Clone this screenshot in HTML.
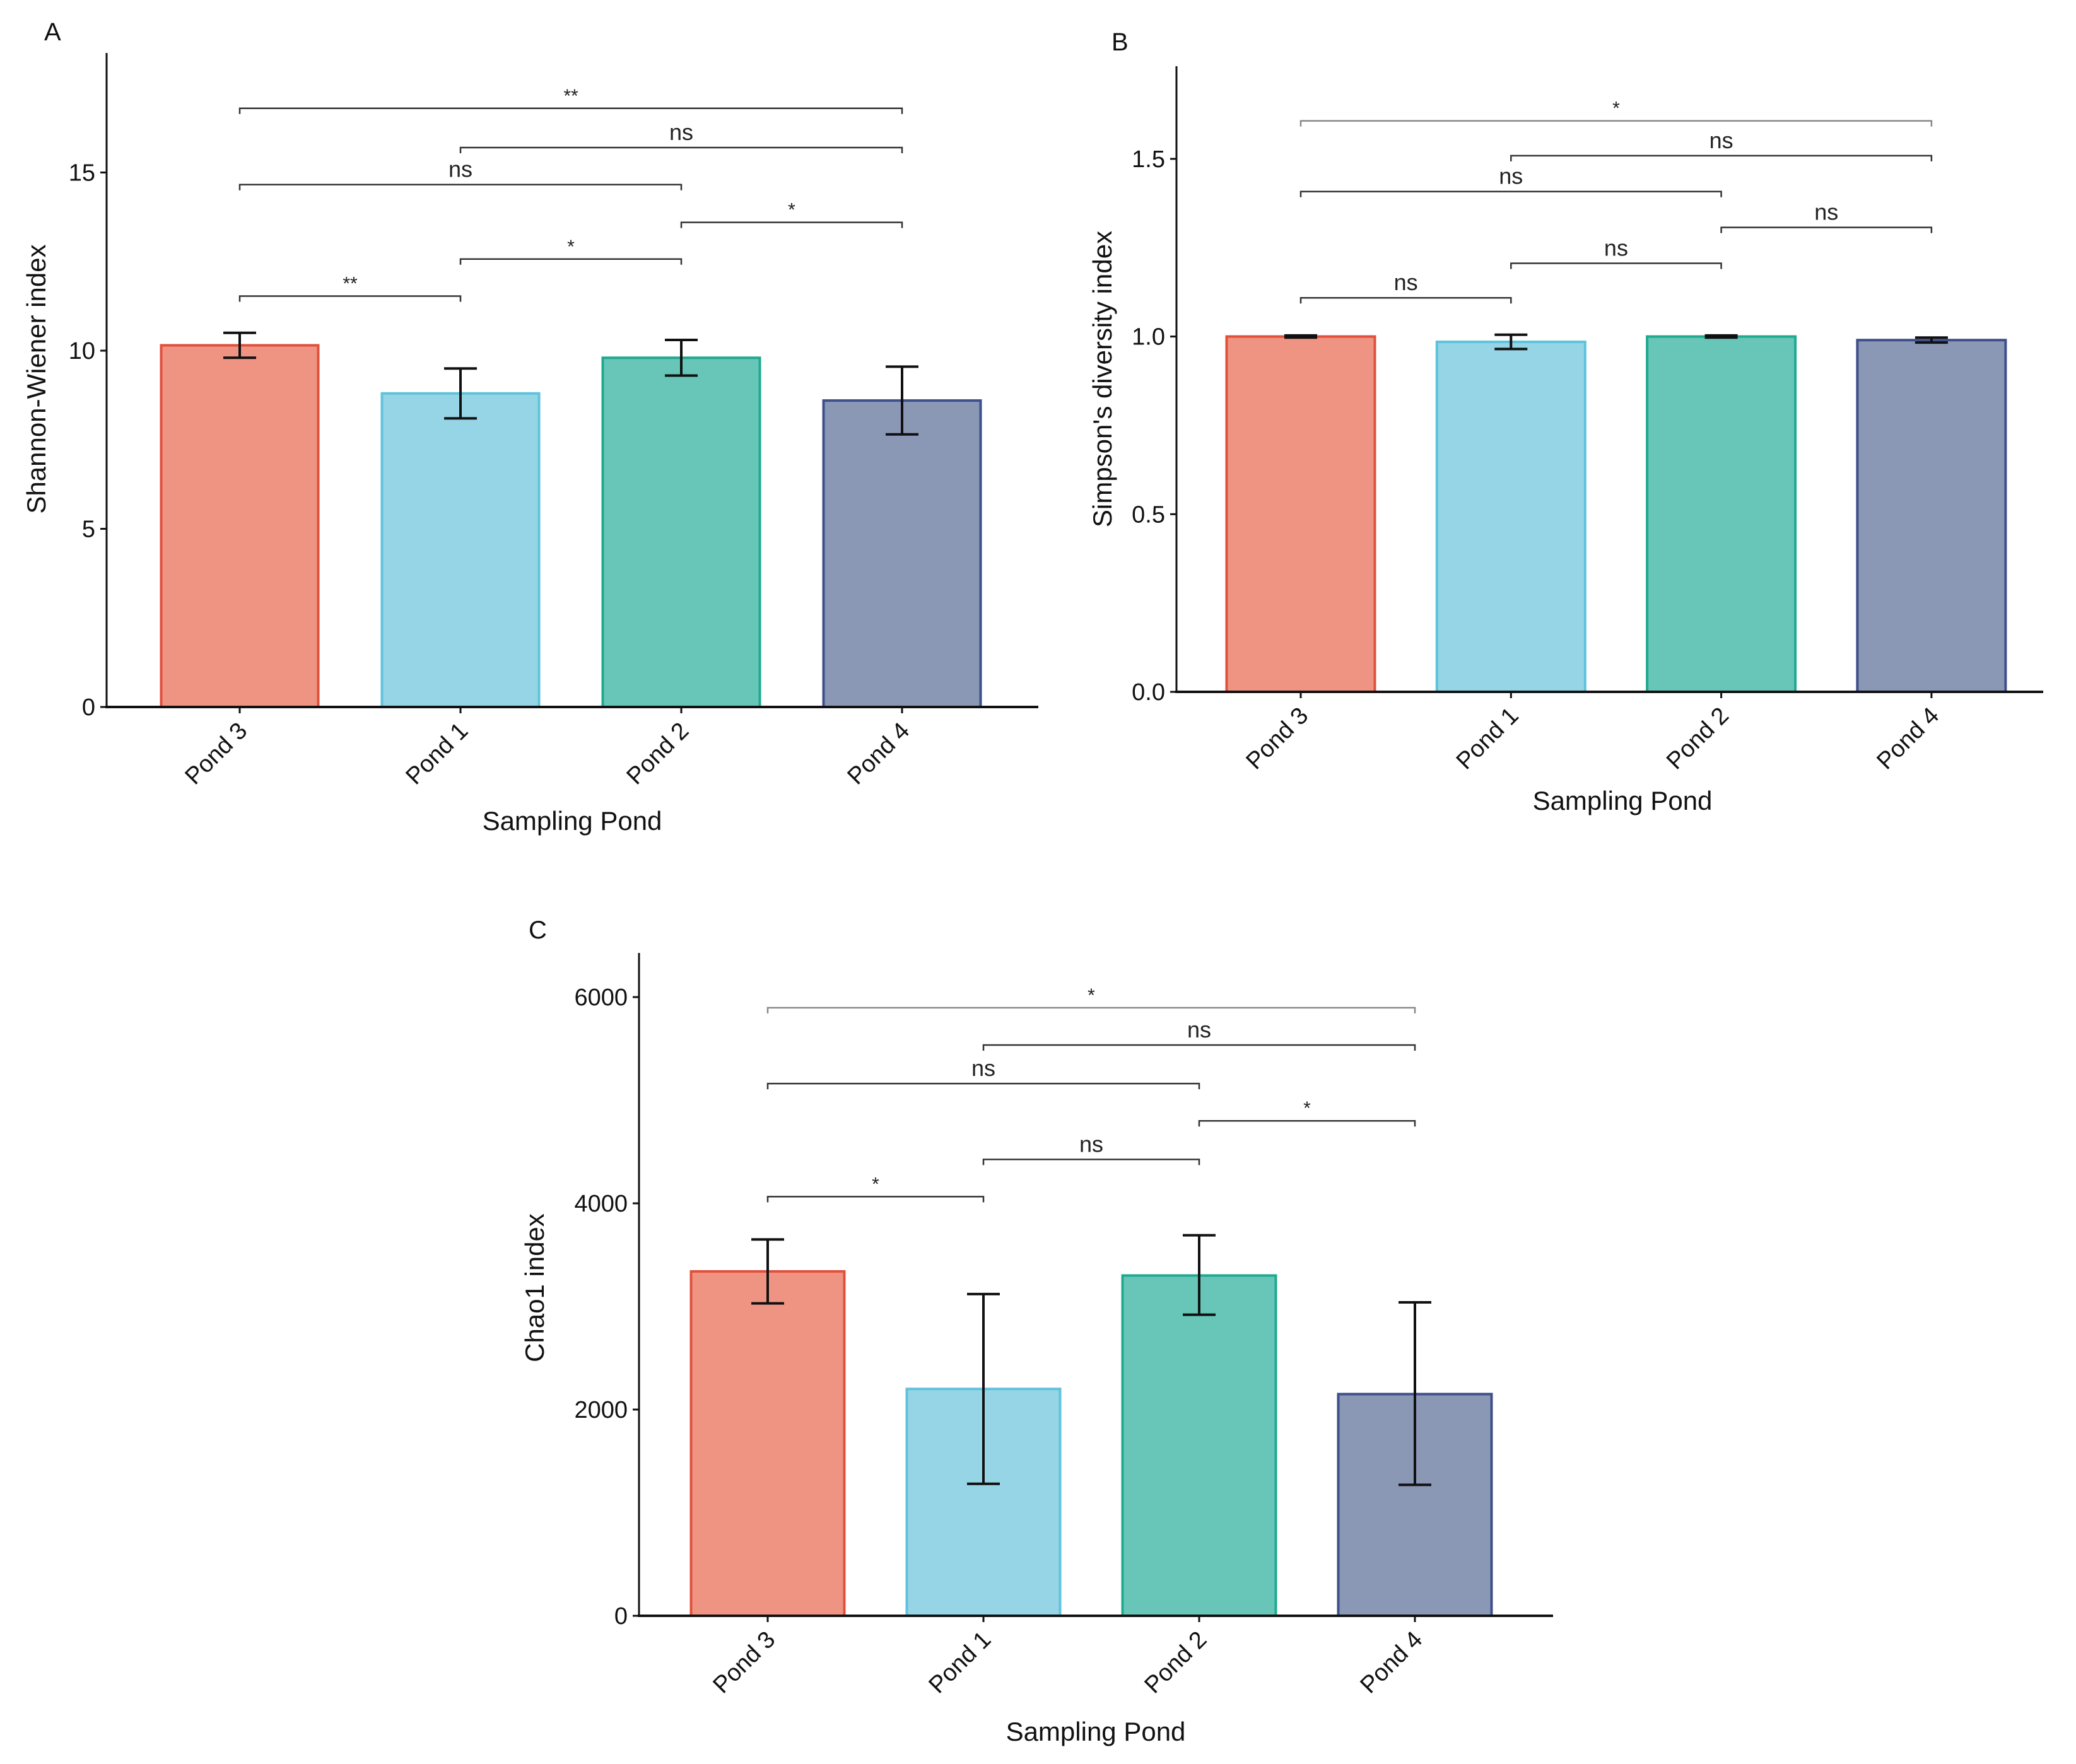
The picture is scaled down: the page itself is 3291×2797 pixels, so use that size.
<!DOCTYPE html>
<html><head><meta charset="utf-8"><style>
html,body{margin:0;padding:0;background:#fff;}
svg{display:block;font-family:"Liberation Sans",sans-serif;}
</style></head><body>
<svg id="fig" width="3291" height="2797" viewBox="0 0 3291 2797" xmlns="http://www.w3.org/2000/svg"></svg>
<script>
const categories = ["Pond 3","Pond 1","Pond 2","Pond 4"];
const fills = ["#ef9483","#96d5e6","#67c6b8","#8a98b6"];
const strokes = ["#e0503c","#5fc2dc","#1fa98f","#3f4f8a"];
// Panel A: Shannon-Wiener
const shannonMeans = [10.15, 8.8, 9.8, 8.6];
const shannonLow = [9.8, 8.1, 9.3, 7.65];
const shannonHigh = [10.5, 9.5, 10.3, 9.55];
const shannonTicks = [0,5,10,15];
const shannonBrFrom = [0,1,0,2,1,0];
const shannonBrTo = [3,3,2,3,2,1];
const shannonBrY = [16.8,15.7,14.66,13.6,12.57,11.53];
const shannonBrLab = ["**","ns","ns","*","*","**"];
// Panel B: Simpson
const simpsonMeans = [1.0, 0.985, 1.0, 0.99];
const simpsonLow = [0.997, 0.965, 0.997, 0.983];
const simpsonHigh = [1.003, 1.005, 1.003, 0.997];
const simpsonTicks = [0.0,0.5,1.0,1.5];
const simpsonBrFrom = [0,1,0,2,1,0];
const simpsonBrTo = [3,3,2,3,2,1];
const simpsonBrY = [1.607,1.509,1.408,1.307,1.206,1.109];
const simpsonBrLab = ["*","ns","ns","ns","ns","ns"];
// Panel C: Chao1
const chaoMeans = [3340, 2200, 3300, 2150];
const chaoLow = [3030, 1280, 2920, 1270];
const chaoHigh = [3650, 3120, 3690, 3040];
const chaoTicks = [0,2000,4000,6000];
const chaoBrFrom = [0,1,0,2,1,0];
const chaoBrTo = [3,3,2,3,2,1];
const chaoBrY = [5897,5535,5161,4800,4426,4065];
const chaoBrLab = ["*","ns","ns","*","ns","*"];

const NS="http://www.w3.org/2000/svg";
const svg=document.getElementById('fig');
function mk(tag,attrs,parent){const e=document.createElementNS(NS,tag);for(const k in attrs)e.setAttribute(k,attrs[k]);(parent||svg).appendChild(e);return e;}

function drawPanel(cfg){
  const g=mk('g',{});
  
  
  const y=v=>cfg.zeroY - v*cfg.pxPerUnit;
  const x=i=>cfg.c0 + i*cfg.step;
  cfg.means.forEach((m,i)=>{
    const r=mk('rect',{x:x(i)-cfg.bw/2,y:y(m),width:cfg.bw,height:y(0)-y(m),fill:fills[i],stroke:strokes[i],'stroke-width':4},g);
    
    
  });
  cfg.means.forEach((m,i)=>{
    const e=mk('g',{stroke:'#111','stroke-width':4,fill:'none'},g);
    
    
    mk('line',{x1:x(i),x2:x(i),y1:y(cfg.low[i]),y2:y(cfg.high[i])},e);
    mk('line',{x1:x(i)-26,x2:x(i)+26,y1:y(cfg.low[i]),y2:y(cfg.low[i])},e);
    mk('line',{x1:x(i)-26,x2:x(i)+26,y1:y(cfg.high[i]),y2:y(cfg.high[i])},e);
  });
  const ya=mk('line',{x1:cfg.axX,x2:cfg.axX,y1:cfg.topY,y2:y(0)+2,stroke:'#111','stroke-width':3},g);
  
  const xa=mk('line',{x1:cfg.axX-2,x2:cfg.rightX,y1:y(0),y2:y(0),stroke:'#111','stroke-width':4},g);
  
  cfg.ticks.forEach(t=>{
    mk('line',{x1:cfg.axX-10,x2:cfg.axX,y1:y(t),y2:y(t),stroke:'#111','stroke-width':3},g);
    const tl=mk('text',{x:cfg.axX-18,y:y(t)+13,'text-anchor':'end','font-size':38,fill:'#111'},g);
    tl.textContent=cfg.fmt(t);
    
  });
  categories.forEach((c,i)=>{
    mk('line',{x1:x(i),x2:x(i),y1:y(0),y2:y(0)+10,stroke:'#111','stroke-width':3},g);
    const tx=x(i)+14, ty=y(0)+40;
    const tl=mk('text',{x:tx,y:ty,'text-anchor':'end','font-size':38,fill:'#111',transform:`rotate(-45 ${tx} ${ty})`},g);
    tl.textContent=c;
    
  });
  cfg.brY.forEach((bv,k)=>{
    const b=mk('g',{},g);
    
    
    const col=(k===0&&cfg.lightTop)?'#888':'#333';
    const x1=x(cfg.brFrom[k]),x2=x(cfg.brTo[k]),yy=y(bv);
    mk('path',{d:`M${x1},${yy+9} V${yy} H${x2} V${yy+9}`,stroke:col,'stroke-width':2.5,fill:'none'},b);
    const lab=cfg.brLab[k];
    const t=mk('text',{x:(x1+x2)/2,y:lab==='ns'?yy-12:yy-10,'text-anchor':'middle','font-size':lab==='ns'?36:30,fill:'#222'},b);
    t.textContent=lab;
  });
  const xt=mk('text',{x:cfg.xtX,y:cfg.xtY,'text-anchor':'middle','font-size':42,fill:'#111'},g);
  xt.textContent='Sampling Pond';
  const yt=mk('text',{x:cfg.ytX,y:cfg.ytY,'text-anchor':'middle','font-size':42,fill:'#111',transform:`rotate(-90 ${cfg.ytX} ${cfg.ytY})`},g);
  yt.textContent=cfg.ytitle;
  const pl=mk('text',{x:cfg.lx,y:cfg.ly,'font-size':40,fill:'#111'},g);
  pl.textContent=cfg.letter;
}

drawPanel({name:'panel-a-shannon',means:shannonMeans,low:shannonLow,high:shannonHigh,ticks:shannonTicks,
  brFrom:shannonBrFrom,brTo:shannonBrTo,brY:shannonBrY,brLab:shannonBrLab,
  zeroY:1121,pxPerUnit:56.5,c0:380,step:350,bw:249,axX:169,topY:84,rightX:1646,
  fmt:t=>String(t),xtX:907,xtY:1316,ytX:72,ytY:601,ytitle:'Shannon-Wiener index',letter:'A',lx:70,ly:64,lightTop:false});
drawPanel({name:'panel-b-simpson',means:simpsonMeans,low:simpsonLow,high:simpsonHigh,ticks:simpsonTicks,
  brFrom:simpsonBrFrom,brTo:simpsonBrTo,brY:simpsonBrY,brLab:simpsonBrLab,
  zeroY:1097,pxPerUnit:563.4,c0:2062,step:333.3,bw:235,axX:1865,topY:105,rightX:3239,
  fmt:t=>t.toFixed(1),xtX:2572,xtY:1284,ytX:1762,ytY:601,ytitle:"Simpson's diversity index",letter:'B',lx:1762,ly:80,lightTop:true});
drawPanel({name:'panel-c-chao1',means:chaoMeans,low:chaoLow,high:chaoHigh,ticks:chaoTicks,
  brFrom:chaoBrFrom,brTo:chaoBrTo,brY:chaoBrY,brLab:chaoBrLab,
  zeroY:2562,pxPerUnit:0.1635,c0:1217,step:342,bw:243,axX:1013,topY:1511,rightX:2462,
  fmt:t=>String(t),xtX:1737,xtY:2760,ytX:862,ytY:2042,ytitle:'Chao1 index',letter:'C',lx:838,ly:1488,lightTop:true});
</script>
</body></html>
